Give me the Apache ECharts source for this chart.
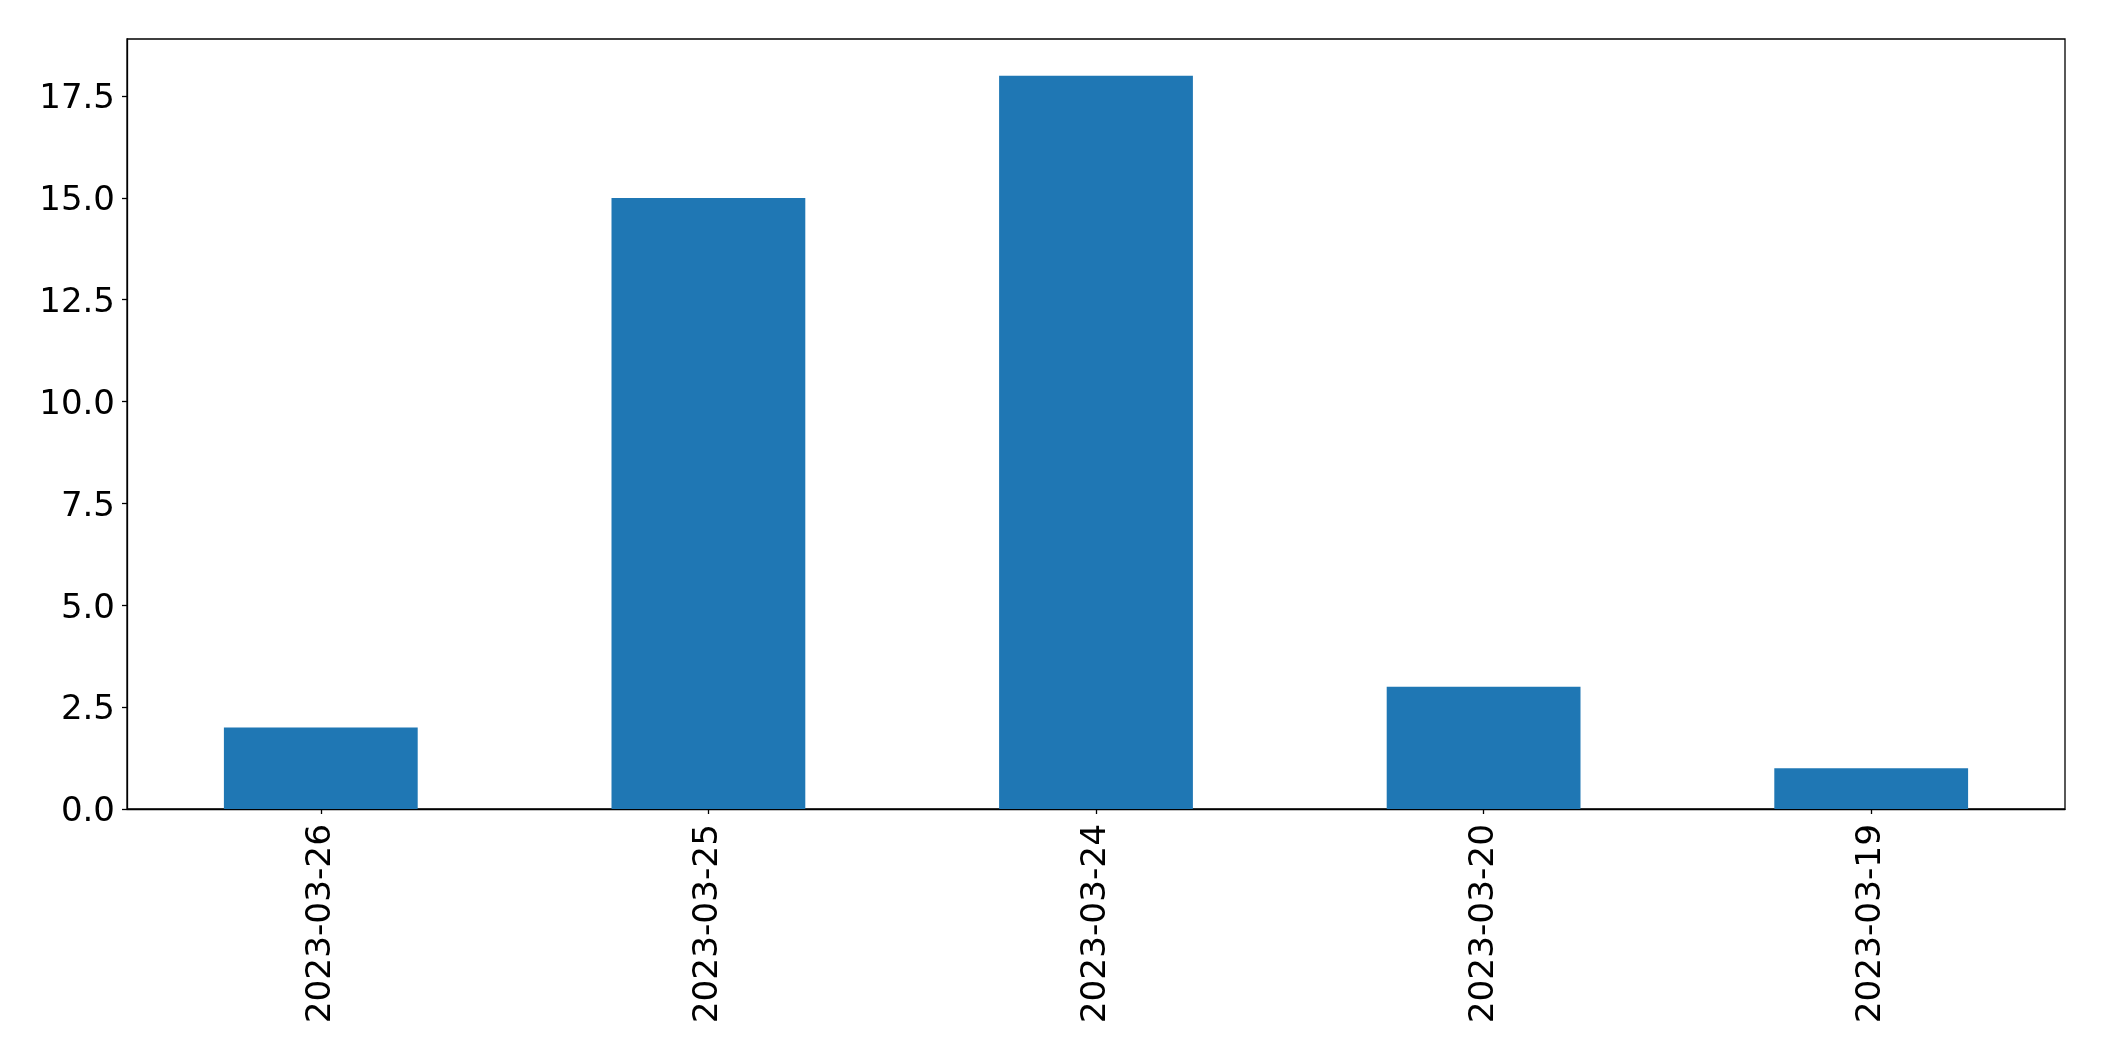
<!DOCTYPE html>
<html><head><meta charset="utf-8">
<script src="https://cdn.jsdelivr.net/npm/echarts@6/dist/echarts.min.js"></script>
<style>html,body{margin:0;padding:0;background:#fff}#c{width:2104px;height:1061px}</style>
</head><body><div id="c"></div>
<script>
const categories = ["2023-03-26", "2023-03-25", "2023-03-24", "2023-03-20", "2023-03-19"];
const counts = [2, 15, 18, 3, 1];
const yTicks = [0, 2.5, 5, 7.5, 10, 12.5, 15, 17.5];

const chart = echarts.init(document.getElementById('c'), null, {renderer: 'canvas'});
const font = 'DejaVu Sans';
chart.setOption({
  animation: false,
  grid: {left: 127, top: 39, width: 1938, height: 770, show: true, borderColor: '#000', borderWidth: 1.3, backgroundColor: 'transparent'},
  xAxis: {
    type: 'category', data: categories,
    axisLine: {show: true, lineStyle: {color: '#000', width: 1.3}},
    axisTick: {show: true, alignWithLabel: true, length: 5, lineStyle: {color: '#000', width: 1.3}},
    axisLabel: {rotate: 90, fontSize: 34.3, fontFamily: font, color: '#000', margin: 15, interval: 0}
  },
  yAxis: {
    type: 'value', min: 0, max: 18.9,
    splitLine: {show: false},
    axisLine: {show: true, lineStyle: {color: '#000', width: 1.3}},
    axisTick: {show: true, length: 5, customValues: yTicks, lineStyle: {color: '#000', width: 1.3}},
    axisLabel: {fontSize: 34, fontFamily: font, color: '#000', margin: 12, customValues: yTicks,
      formatter: v => '{a|' + Number(v).toFixed(1) + '}',
      rich: {a: {fontSize: 34, fontFamily: font, color: '#000', padding: [7, 0, 0, 0]}}}
  },
  series: [{type: 'bar', data: counts, barWidth: '50%', itemStyle: {color: '#1f77b4'}}]
});
</script></body></html>
